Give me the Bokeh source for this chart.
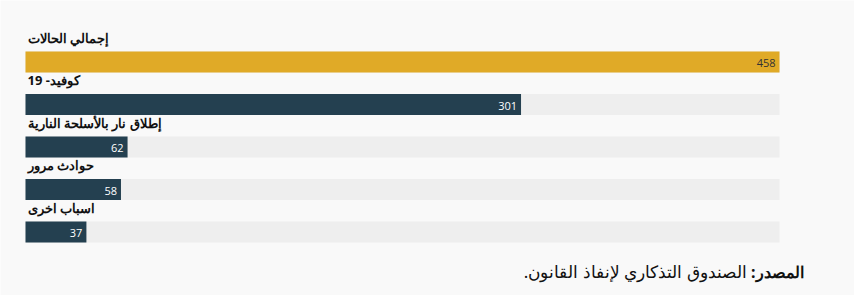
from bokeh.plotting import figure
from bokeh.models import Range1d, ColumnDataSource, Label
from bokeh.core.properties import value
from bokeh.embed import file_html
from bokeh.resources import INLINE

categories = ["إجمالي الحالات", "كوفيد- 19", "إطلاق نار بالأسلحة النارية", "حوادث مرور", "اسباب اخرى"]
values = [458, 301, 62, 58, 37]
source_bold = "المصدر:"
source_rest = "الصندوق التذكاري لإنفاذ القانون."

RLE, PDF = "\u202b", "\u202c"

W, H = 854, 295
left_px, right_px = 25, 779
row0_px, row_step = 61.5, 42.5
total = max(values)
s = total / (right_px - left_px)

n = len(values)
idx = list(range(n))
colors = ["#e0aa27"] + ["#244050"] * (n - 1)
text_colors = ["#333333"] + ["#ffffff"] * (n - 1)

p = figure(width=W, height=H, output_backend="svg", toolbar_location=None,
           x_range=Range1d(-left_px * s, (W - left_px) * s),
           y_range=Range1d((H - row0_px) / row_step, -row0_px / row_step),
           min_border=0, background_fill_color="#f9f9f9", border_fill_color="#f9f9f9",
           outline_line_color=None)
p.axis.visible = False
p.grid.visible = False

src = ColumnDataSource(dict(
    y=idx, v=values, tot=[total] * n, c=colors, tc=text_colors,
    lab=[RLE + c + PDF for c in categories],
    vl=[str(v) for v in values],
    ly=[i - 0.57 for i in idx],
))

bh = 21 / row_step
p.hbar(y="y", left=0, right="tot", height=bh, source=src, color="#eeeeee", line_color=None)
p.hbar(y="y", left=0, right="v", height=bh, source=src, fill_color="c", line_color=None)
p.text(x="v", y="y", text="vl", source=src, text_color="tc", text_align="right",
       text_baseline="middle", x_offset=-4, y_offset=1, text_font=value("Open Sans"),
       text_font_size="11px")
p.text(x=0, y="ly", text="lab", source=src, text_color="#111111", text_align="left",
       text_baseline="middle", x_offset=2, text_font=value("Noto Sans"),
       text_font_size="13px", text_font_style="bold")

bold_w = 57
p.add_layout(Label(x=803, y=H - 271, x_units="screen", y_units="screen", text=RLE + source_bold + PDF,
                   text_align="right", text_baseline="middle", text_font="Noto Sans",
                   text_font_size="16px", text_font_style="bold", text_color="#111111"))
p.add_layout(Label(x=803 - bold_w, y=H - 271, x_units="screen", y_units="screen", text=RLE + source_rest + PDF,
                   text_align="right", text_baseline="middle", text_font="Noto Sans",
                   text_font_size="17px", text_color="#111111"))

open("out.html", "w").write(file_html(p, INLINE))
